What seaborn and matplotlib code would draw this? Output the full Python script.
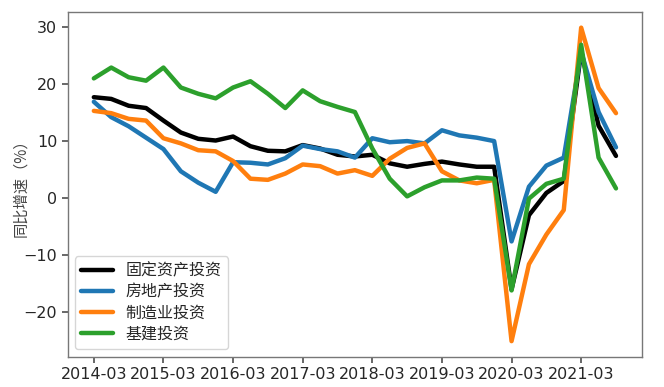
import matplotlib
matplotlib.use("Agg")
import matplotlib.pyplot as plt
import numpy as np
import pandas as pd
import seaborn as sns

# quarterly cumulative YoY growth, 2014-03 .. 2021-09
quarters = [f"{y}-{m:02d}" for y in range(2014, 2022) for m in (3, 6, 9, 12)][:31]

fai = [17.6, 17.3, 16.1, 15.7, 13.5, 11.4, 10.3, 10.0, 10.7, 9.0, 8.2, 8.1,
       9.2, 8.6, 7.5, 7.2, 7.5, 6.0, 5.4, 5.9, 6.3, 5.8, 5.4, 5.4,
       -16.1, -3.1, 0.8, 2.9, 25.6, 12.6, 7.3]
real_estate = [16.8, 14.1, 12.5, 10.5, 8.5, 4.6, 2.6, 1.0, 6.2, 6.1, 5.8, 6.9,
               9.1, 8.5, 8.1, 7.0, 10.4, 9.7, 9.9, 9.5, 11.8, 10.9, 10.5, 9.9,
               -7.7, 1.9, 5.6, 7.0, 25.6, 15.0, 8.8]
manufacturing = [15.2, 14.8, 13.8, 13.5, 10.4, 9.5, 8.3, 8.1, 6.4, 3.3, 3.1, 4.2,
                 5.8, 5.5, 4.2, 4.8, 3.8, 6.8, 8.7, 9.5, 4.6, 3.0, 2.5, 3.1,
                 -25.2, -11.7, -6.5, -2.2, 29.8, 19.2, 14.8]
infrastructure = [20.9, 22.8, 21.1, 20.5, 22.8, 19.3, 18.2, 17.4, 19.3, 20.4, 18.2, 15.7,
                  18.8, 16.9, 15.9, 15.0, 8.6, 3.3, 0.2, 1.8, 3.0, 3.0, 3.5, 3.3,
                  -16.3, -0.2, 2.4, 3.3, 26.8, 7.0, 1.6]

series = {
    "固定资产投资": (fai, "black"),
    "房地产投资": (real_estate, "#1f77b4"),
    "制造业投资": (manufacturing, "#ff7f0e"),
    "基建投资": (infrastructure, "#2ca02c"),
}

sns.set_theme(style="ticks")
plt.rcParams["font.family"] = ["Noto Sans CJK SC", "DejaVu Sans"]
plt.rcParams["axes.unicode_minus"] = True

fig, ax = plt.subplots(figsize=(6.64, 3.87), dpi=100)
fig.subplots_adjust(left=0.102, right=0.967, top=0.969, bottom=0.078)

x = np.arange(len(quarters))
for name, (vals, color) in series.items():
    df = pd.DataFrame({"q": x, "v": vals})
    sns.lineplot(data=df, x="q", y="v", ax=ax, color=color, linewidth=3.2, label=name)

ax.set_xticks(x[::4])
ax.set_xticklabels(quarters[::4], fontfamily="DejaVu Sans")
ax.set_yticks([-20, -10, 0, 10, 20, 30])
ax.tick_params(labelsize=11.5, length=4, color="#555555")
for t in ax.get_yticklabels():
    t.set_fontfamily("DejaVu Sans")
ax.set_xlabel("")
ax.set_ylabel("同比增速（%）", fontsize=11, color="#444444")
ax.yaxis.set_label_coords(-0.068, 0.5)
for s in ax.spines.values():
    s.set_color("#777777")
    s.set_linewidth(1.0)

ax.margins(x=0.05, y=0.05)
ax.legend(loc="lower left", bbox_to_anchor=(0.012, 0.022), borderaxespad=0,
          fontsize=11.5, frameon=True, handlelength=2.0,
          labelspacing=0.25, borderpad=0.4)

fig.savefig("out.png", dpi=100)
